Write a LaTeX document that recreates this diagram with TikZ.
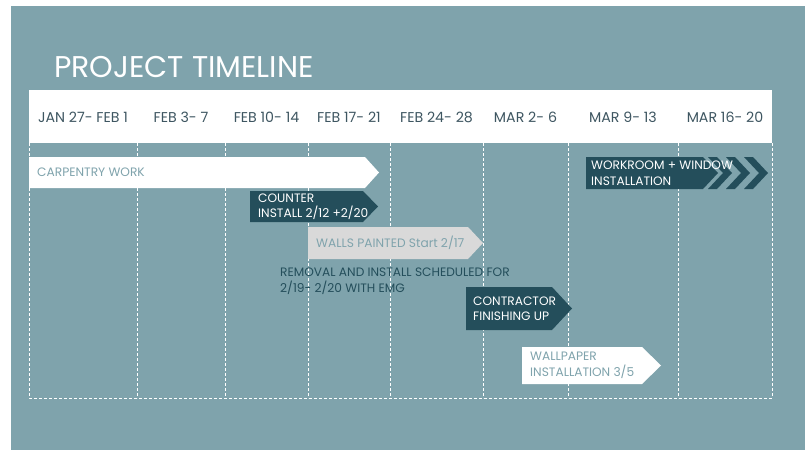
\documentclass[tikz,border=0pt]{standalone}
\usepackage{fontspec}
\setmainfont{Poppins}
\usepackage{tikz}

\definecolor{panel}{HTML}{7FA3AC}
\definecolor{deep}{HTML}{244E5B}
\definecolor{pale}{HTML}{D9D9D9}
\definecolor{slate}{HTML}{3E5661}

\tikzset{
    week/.style={font=\fontsize{14.2}{16}\selectfont, text=slate},
    task/.style={anchor=west, align=left, inner sep=0pt, font=\fontsize{12.2}{15.5}\selectfont},
    grid/.style={white, line width=0.6pt, dash pattern=on 3pt off 2pt}
}

\begin{document}
\begin{tikzpicture}[x=1pt, y=-1pt]
    \useasboundingbox (0,0) rectangle (805,450);
    \fill[white] (0,0) rectangle (805,450);
    \fill[panel] (11,6) rectangle (805,450);

    % title and week header
    \node[anchor=base west, inner sep=0pt, text=white, font=\fontsize{30}{32}\selectfont] (title) at (54,77) {PROJECT TIMELINE};
    \fill[white] (29,90) rectangle (772,143);
    \node[week] (w1) at (83,117) {JAN 27- FEB 1};
    \node[week] (w2) at (181,117) {FEB 3- 7};
    \node[week] (w3) at (266.5,117) {FEB 10- 14};
    \node[week] (w4) at (349,117) {FEB 17- 21};
    \node[week] (w5) at (436.5,117) {FEB 24- 28};
    \node[week] (w6) at (525.5,117) {MAR 2- 6};
    \node[week] (w7) at (623,117) {MAR 9- 13};
    \node[week] (w8) at (725,117) {MAR 16- 20};

    % dashed grid
    \draw[grid] (29,143) -- (29,398) -- (772,398) -- (772,143);
    \draw[grid] (137,143) -- (137,398);
    \draw[grid] (225,143) -- (225,398);
    \draw[grid] (308,143) -- (308,398);
    \draw[grid] (390,143) -- (390,398);
    \draw[grid] (483,143) -- (483,398);
    \draw[grid] (568,143) -- (568,398);
    \draw[grid] (678,143) -- (678,398);

    % bars
    \fill[white] (29,157) -- (365,157) -- (379,172.5) -- (365,188) -- (29,188) -- cycle;
    \node[task, text=panel] (carpentry) at (37,172.5) {CARPENTRY WORK};

    \fill[deep] (250,191) -- (363,191) -- (378,206.5) -- (363,222) -- (250,222) -- cycle;
    \node[task, text=white] (counter) at (258,206.5) {COUNTER\\INSTALL 2/12 +2/20};

    \fill[pale] (308,227) -- (468,227) -- (483,243) -- (468,259) -- (308,259) -- cycle;
    \node[task, text=panel] (walls) at (316,243) {WALLS PAINTED Start 2/17};

    \node[task, text=deep] (removal) at (280,281) {REMOVAL AND INSTALL SCHEDULED FOR\\2/19- 2/20 WITH EMG};

    \fill[deep] (466,287) -- (552,287) -- (572,308.5) -- (552,330) -- (466,330) -- cycle;
    \node[task, text=white] (contractor) at (473,308.5) {CONTRACTOR\\FINISHING UP};

    \fill[white] (522,347) -- (642,347) -- (661,365.5) -- (642,384) -- (522,384) -- cycle;
    \node[task, text=panel] (wallpaper) at (530,365.5) {WALLPAPER\\INSTALLATION 3/5};

    \fill[deep] (586,157) -- (703,157) -- (718,173) -- (703,189) -- (586,189) -- cycle;
    \fill[deep] (708,157) -- (717,157) -- (732,173) -- (717,189) -- (708,189) -- (723,173) -- cycle;
    \fill[deep] (726,157) -- (735,157) -- (750,173) -- (735,189) -- (726,189) -- (741,173) -- cycle;
    \fill[deep] (744,157) -- (753,157) -- (768,173) -- (753,189) -- (744,189) -- (759,173) -- cycle;
    \node[task, text=white] (workroom) at (591,173) {WORKROOM + WINDOW\\INSTALLATION};
\end{tikzpicture}
\end{document}
